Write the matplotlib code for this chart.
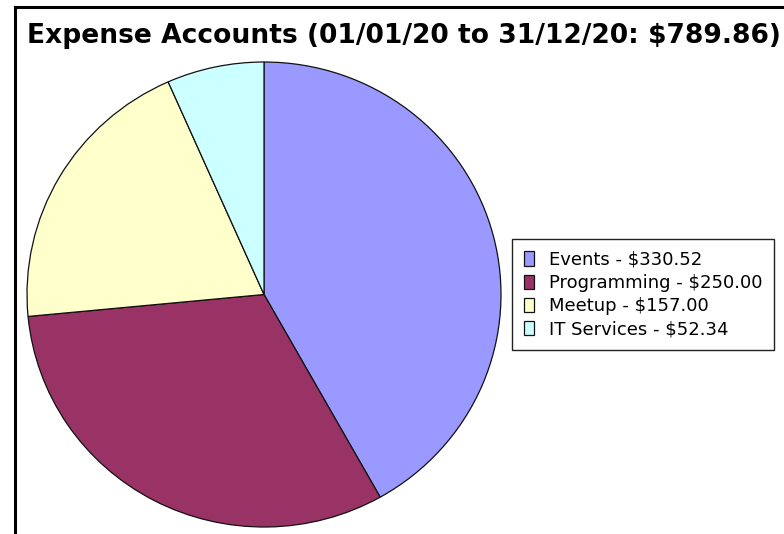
import matplotlib
matplotlib.use("Agg")
import matplotlib.pyplot as plt
from matplotlib.lines import Line2D

# expense accounts, 01/01/20 to 31/12/20
accounts = ["Events", "Programming", "Meetup", "IT Services"]
amounts = [330.52, 250.00, 157.00, 52.34]
colors = ["#9999ff", "#993366", "#ffffcc", "#ccffff"]
title = "Expense Accounts (01/01/20 to 31/12/20: $789.86)"

W, H = 784, 534
fig = plt.figure(figsize=(W / 100, H / 100), dpi=100)


def px(x0, y0, x1, y1):
    """pixel box (top-left origin) -> figure fraction rect"""
    return [x0 / W, 1 - y1 / H, (x1 - x0) / W, (y1 - y0) / H]


# chart border (image is cropped, only top and left edges are visible)
fig.add_artist(Line2D([15 / W, 15 / W], [0, 1 - 7 / H], transform=fig.transFigure,
                      color="black", lw=2.2))
fig.add_artist(Line2D([15 / W, 1], [1 - 7 / H, 1 - 7 / H], transform=fig.transFigure,
                      color="black", lw=2.2))

# title nearly fills the width, kept just inside the right edge
fig.text(27 / W, 1 - 43 / H, title, fontsize=19.05, fontweight="bold",
         ha="left", va="baseline", color="black")

ax = fig.add_axes(px(27, 62, 501, 527))
wedges, _ = ax.pie(amounts, colors=colors, startangle=90, counterclock=False,
                   radius=1.0, frame=False,
                   wedgeprops=dict(edgecolor="#111111", linewidth=0.9))
ax.set_aspect("auto")
ax.set_xlim(-1.0, 1.0)
ax.set_ylim(-1.0, 1.0)
ax.axis("off")
for w in wedges:
    w.set_clip_on(False)

labels = [f"{a} - ${v:,.2f}" for a, v in zip(accounts, amounts)]
leg = fig.legend(wedges, labels, loc="upper left",
                 bbox_to_anchor=(512 / W, 1 - 239 / H),
                 fontsize=13.0, frameon=True, fancybox=False,
                 edgecolor="#222222", framealpha=1, borderaxespad=0,
                 handlelength=0.56, handleheight=0.85, handletextpad=0.85,
                 labelspacing=0.29, borderpad=0.65)
leg.get_frame().set_linewidth(1.0)
for h in leg.legend_handles:
    h.set_edgecolor("#111111")
    h.set_linewidth(0.9)

fig.savefig("out.png", dpi=100)
